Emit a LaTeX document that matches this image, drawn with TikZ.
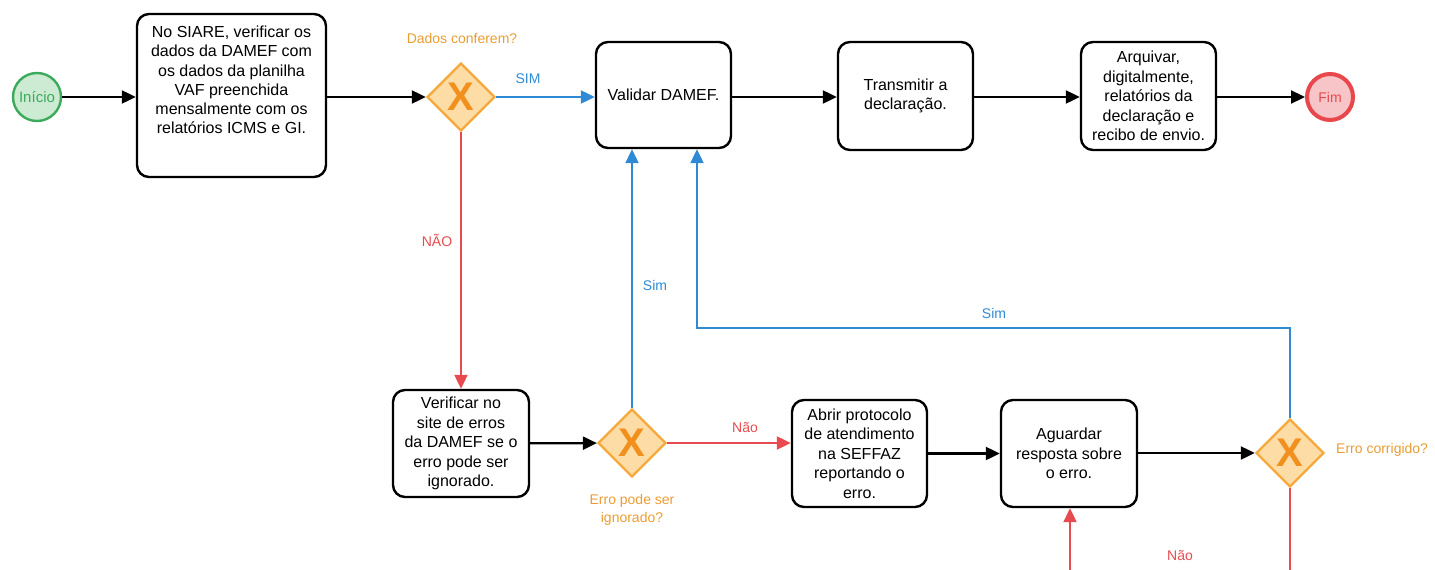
\documentclass[tikz,border=0pt]{standalone}
\usepackage{fontspec}
\setmainfont{Liberation Sans}
\usetikzlibrary{arrows.meta,shapes.geometric}
\definecolor{gateO}{HTML}{F6A93B}
\definecolor{gateF}{HTML}{FDDCA6}
\definecolor{xO}{HTML}{F2901E}
\definecolor{lblO}{HTML}{E99D33}
\definecolor{flowB}{HTML}{2E8BD3}
\definecolor{flowR}{HTML}{E84B4F}
\definecolor{startG}{HTML}{3CAA5C}
\definecolor{startF}{HTML}{CDEBD2}
\definecolor{endR}{HTML}{E8474C}
\definecolor{endF}{HTML}{F7C5C8}
\tikzset{
  x=1pt, y=-1pt,
  taskbox/.style={draw=black, line width=2.4pt, rounded corners=12pt, fill=white,
    inner sep=0pt, align=center, font=\fontsize{16}{19.5}\selectfont},
  tasktext/.style={inner sep=0pt, align=center, font=\fontsize{16}{19.3}\selectfont},
  gate/.style={diamond, draw=gateO, fill=gateF, line width=2.4pt, minimum width=68pt,
    minimum height=68pt, inner sep=0pt, text=xO, font=\fontsize{40}{40}\selectfont\bfseries},
  gatelbl/.style={text=lblO, align=center, inner sep=0pt, font=\fontsize{14}{17.5}\selectfont},
  flowlbl/.style={inner sep=0pt, font=\fontsize{14}{16}\selectfont},
  blackflow/.style={line width=2.2pt, draw=black, -{Triangle[length=14pt,width=13pt]}},
  blueflow/.style={line width=2.2pt, draw=flowB, -{Triangle[length=14pt,width=13pt,fill=flowB]}},
  redflow/.style={line width=2.2pt, draw=flowR, -{Triangle[length=14pt,width=13pt,fill=flowR]}},
}
\begin{document}
\begin{tikzpicture}
\useasboundingbox (0,0) rectangle (1435,570);
\clip (0,0) rectangle (1435,570);

% events
\node[circle, draw=startG, fill=startF, line width=2.4pt, minimum size=48pt, inner sep=0pt,
  text=startG, font=\fontsize{15}{15}\selectfont] (start) at (37,97) {Início};
\node[circle, draw=endR, fill=endF, line width=4pt, minimum size=46pt, inner sep=0pt,
  text=endR, font=\fontsize{14}{14}\selectfont] (end) at (1330,97) {Fim};

% tasks
\node[taskbox, minimum width=189pt, minimum height=163pt] (t1) at (231.5,95.5) {};
\node[tasktext] (t1txt) at (231.5,80) {No SIARE, verificar os\\dados da DAMEF com\\os dados da planilha\\VAF preenchida\\mensalmente com os\\relatórios ICMS e GI.};
\node[taskbox, minimum width=135pt, minimum height=106pt] (val) at (663.5,95) {Validar DAMEF.};
\node[taskbox, minimum width=135pt, minimum height=108pt] (trans) at (905.5,96) {Transmitir a\\declaração.};
\node[taskbox, minimum width=135pt, minimum height=108pt] (arq) at (1148.5,96) {Arquivar,\\digitalmente,\\relatórios da\\declaração e\\recibo de envio.};
\node[taskbox, minimum width=136pt, minimum height=107pt] (verif) at (461,443.5) {Verificar no\\site de erros\\da DAMEF se o\\erro pode ser\\ignorado.};
\node[taskbox, minimum width=135pt, minimum height=107pt] (abrir) at (859.5,453.5) {Abrir protocolo\\de atendimento\\na SEFFAZ\\reportando o\\erro.};
\node[taskbox, minimum width=136pt, minimum height=107pt] (ag) at (1069,453.5) {Aguardar\\resposta sobre\\o erro.};

% gateways
\node[gate] (g1) at (461,97) {X};
\node[gate] (g2) at (632,443) {X};
\node[gate] (g3) at (1290,453) {X};
\node[gatelbl] (g1lbl) at (462,38) {Dados conferem?};
\node[gatelbl] (g2lbl) at (632,510) {Erro pode ser\\ignorado?};
\node[gatelbl, anchor=west] (g3lbl) at (1336,450) {Erro corrigido?};

% loop corners
\coordinate (sloop) at (697,328);
\coordinate (nloop) at (1070,610);

% sequence flows
\draw[blackflow] (start) -- (start -| t1.west);
\draw[blackflow] (t1.east |- g1) -- (g1);
\draw[blueflow] (g1) -- (g1 -| val.west);
\draw[blackflow] (val.east |- g1) -- (g1 -| trans.west);
\draw[blackflow] (trans.east |- g1) -- (g1 -| arq.west);
\draw[blackflow] (arq.east |- end) -- (end);
\draw[redflow] (g1.south) -- (g1.south |- verif.north);
\draw[blackflow] (verif) -- (g2);
\draw[blueflow] (g2.north) -- (g2.north |- val.south);
\draw[redflow] (g2) -- (g2 -| abrir.west);
\draw[blackflow] (abrir) -- (ag);
\draw[blackflow] (ag.east |- g3) -- (g3);
\draw[blueflow] (g3.north) |- (sloop) -- (sloop |- val.south);
\draw[redflow] (g3.south) |- (nloop) -- (nloop |- ag.south);

% flow labels
\node[flowlbl, text=flowB] (simlbl1) at (528,79) {SIM};
\node[flowlbl, text=flowR] (naolbl1) at (437,240) {NÃO};
\node[flowlbl, text=flowB] (simlbl2) at (655,285) {Sim};
\node[flowlbl, text=flowR] (naolbl2) at (745,428) {Não};
\node[flowlbl, text=flowB] (simlbl3) at (994,313) {Sim};
\node[flowlbl, text=flowR] (naolbl3) at (1180,556) {Não};
\end{tikzpicture}
\end{document}
